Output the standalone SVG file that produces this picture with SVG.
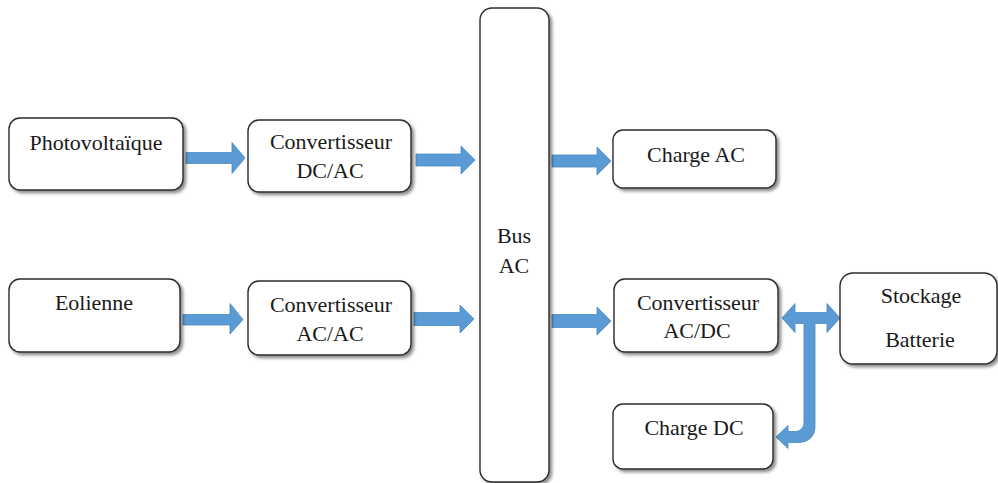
<svg xmlns="http://www.w3.org/2000/svg" width="998" height="483" viewBox="0 0 998 483">
  <defs>
    <filter id="shadow" x="-10%" y="-10%" width="130%" height="130%">
      <feDropShadow dx="2.5" dy="2.5" stdDeviation="1.8" flood-color="#000" flood-opacity="0.45"/>
    </filter>
  </defs>
  <style>
    .box { fill: #ffffff; stroke: #2b2b2b; stroke-width: 1.4; filter: url(#shadow); }
    .lbl { font-family: Times, 'Times New Roman', 'Liberation Serif', Tinos, 'Noto Serif', 'DejaVu Serif', serif; font-size: 22px; fill: #1a1a1a; text-anchor: middle; }
    .arrow { fill: #5b9bd5; stroke: #4a86c2; stroke-width: 0.8; stroke-linejoin: miter; }
  </style>
  <rect width="998" height="483" fill="#ffffff"/>

  <!-- connectors -->
  <g id="connectors">
    <!-- PV -> DC/AC -->
    <polygon class="arrow" points="186,152.5 232,152.5 232,142.5 245,158 232,173.5 232,163.5 186,163.5"/>
    <!-- DC/AC -> bus -->
    <polygon class="arrow" points="416,154 461,154 461,146 475,160 461,174 461,166 416,166"/>
    <!-- bus -> Charge AC -->
    <polygon class="arrow" points="552,155 597,155 597,147 611,161 597,175 597,167 552,167"/>
    <!-- Eolienne -> AC/AC -->
    <polygon class="arrow" points="183,314.5 230,314.5 230,303.5 243,319.5 230,334 230,325 183,325"/>
    <!-- AC/AC -> bus -->
    <polygon class="arrow" points="414,312.5 460,312.5 460,305 474,319 460,333 460,325.5 414,325.5"/>
    <!-- bus -> AC/DC -->
    <polygon class="arrow" points="552,314.5 597,314.5 597,307 611,321 597,335 597,327.5 552,327.5"/>
    <!-- AC/DC <-> storage, with branch down to Charge DC -->
    <path class="arrow" d="M782,318 L795,303.5 V312.5 H827 V303.5 L840,318 L827,332.5 V323.5 H815 V427.5 A15,15 0 0 1 800,442.5 H788 V448.5 L776,437 L788,425.5 V431.5 H795.5 A8.5,8.5 0 0 0 804,423 V323.5 H795 V332.5 Z"/>
  </g>

  <g id="pv">
    <rect class="box" x="9" y="118" width="174" height="72" rx="11"/>
    <text class="lbl" x="96" y="150">Photovoltaïque</text>
  </g>

  <g id="conv-dcac">
    <rect class="box" x="248" y="120" width="163" height="72" rx="11"/>
    <text class="lbl" x="331" y="149">Convertisseur</text>
    <text class="lbl" x="330" y="178">DC/AC</text>
  </g>

  <g id="eolienne">
    <rect class="box" x="9" y="279" width="171" height="73" rx="11"/>
    <text class="lbl" x="94" y="310">Eolienne</text>
  </g>

  <g id="conv-acac">
    <rect class="box" x="248" y="281" width="163" height="74" rx="11"/>
    <text class="lbl" x="331" y="312">Convertisseur</text>
    <text class="lbl" x="330" y="341">AC/AC</text>
  </g>

  <g id="bus">
    <rect class="box" x="480" y="8" width="69" height="474" rx="12"/>
    <text class="lbl" x="514" y="243">Bus</text>
    <text class="lbl" x="514" y="273">AC</text>
  </g>

  <g id="charge-ac">
    <rect class="box" x="613" y="130" width="163" height="58" rx="10"/>
    <text class="lbl" x="696" y="162">Charge AC</text>
  </g>

  <g id="conv-acdc">
    <rect class="box" x="614" y="279" width="164" height="73" rx="11"/>
    <text class="lbl" x="698" y="310">Convertisseur</text>
    <text class="lbl" x="697" y="338">AC/DC</text>
  </g>

  <g id="storage">
    <rect class="box" x="840" y="273" width="157" height="91" rx="13"/>
    <text class="lbl" x="921" y="303">Stockage</text>
    <text class="lbl" x="920" y="347">Batterie</text>
  </g>

  <g id="charge-dc">
    <rect class="box" x="613" y="404" width="160" height="65" rx="10"/>
    <text class="lbl" x="694" y="435">Charge DC</text>
  </g>
</svg>
